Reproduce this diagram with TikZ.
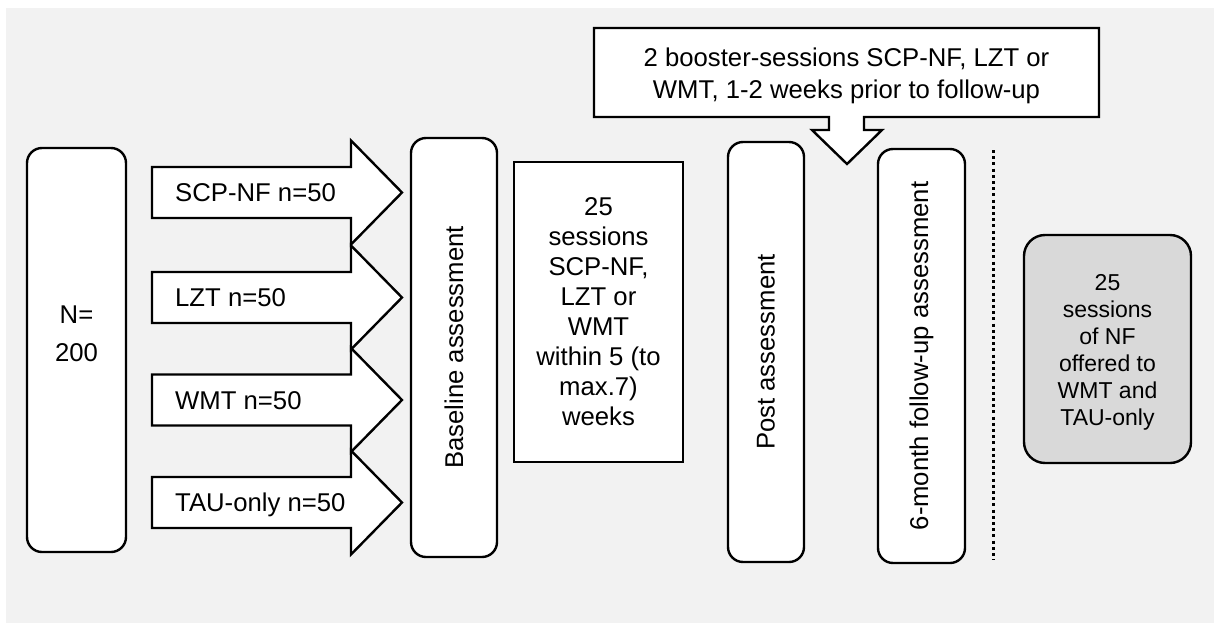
\documentclass[tikz,border=0pt]{standalone}
\usepackage{fontspec}
\setmainfont{Liberation Sans}
\definecolor{bgcol}{HTML}{F2F2F2}
\definecolor{graybox}{HTML}{D9D9D9}
\begin{document}
\begin{tikzpicture}[x=1pt,y=-1pt,
  box/.style={draw=black, line width=2.4pt, fill=white, inner sep=0pt},
  rbox/.style={box, rounded corners=15pt},
  lbl/.style={font=\fontsize{25.7}{30}\selectfont, align=center, inner sep=0pt},
  blockarrow/.style={draw=black, line width=2.4pt, fill=white, line join=miter},
  sep/.style={line width=3pt, dash pattern=on 3pt off 3.2pt},
]
\useasboundingbox (0,0) rectangle (1214,623);
\fill[bgcol] (6,8) rectangle (1214,623);

% N box
\node[rbox, minimum width=99pt, minimum height=404pt] (Nbox) at (76.5,350) {};
\node[lbl, font=\fontsize{25.7}{38}\selectfont] (Ntext) at (76.5,334) {N=\\200};

% group arrows
\foreach \yy/\txt/\nm in {192.5/SCP-NF n=50/a1, 297.5/LZT n=50/a2, 400/WMT n=50/a3, 502.5/TAU-only n=50/a4}{
  \draw[blockarrow] (152,{\yy-25.5}) -- (351,{\yy-25.5}) -- (351,{\yy-52}) -- (402,\yy)
     -- (351,{\yy+52}) -- (351,{\yy+25.5}) -- (152,{\yy+25.5}) -- cycle;
  \node[lbl, anchor=base west] (\nm) at (175,{\yy+9.2}) {\txt};
}

% Baseline
\node[rbox, minimum width=86pt, minimum height=419pt] (base) at (454,347.5) {};
\node[lbl, rotate=90] (basetext) at (base.center) {Baseline assessment};

% 25 sessions
\node[box, minimum width=169pt, minimum height=300pt] (sess) at (598.5,312) {};
\node[lbl] (sesstext) at (598.5,312) {25\\sessions\\SCP-NF,\\LZT or\\WMT\\within 5 (to\\max.7)\\weeks};

% Post
\node[rbox, minimum width=76pt, minimum height=420pt] (post) at (766,352) {};
\node[lbl, rotate=90] (posttext) at (post.center) {Post assessment};

% Callout
\draw[blockarrow] (594,28) -- (1099,28) -- (1099,117) -- (864,117) -- (864,130) -- (882,130)
   -- (847,164) -- (812,130) -- (829,130) -- (829,117) -- (594,117) -- cycle;
\node[lbl, font=\fontsize{25.7}{31.5}\selectfont] (booster) at (846.5,76) {2 booster-sessions SCP-NF, LZT or\\WMT, 1-2 weeks prior to follow-up};

% 6-month
\node[rbox, minimum width=87pt, minimum height=414pt] (fu) at (921.5,356) {};
\node[lbl, rotate=90] (futext) at (fu.center) {6-month follow-up assessment};

% dotted separator
\coordinate (septop) at (993,150);
\coordinate (sepbot) at (993,560);
\draw[sep] (septop) -- (sepbot);

% offered NF
\node[box, fill=graybox, rounded corners=21pt, minimum width=167pt, minimum height=228pt] (offer) at (1107.5,349) {};
\node[lbl, font=\fontsize{23}{27}\selectfont] (offertext) at (1107.5,352) {25\\sessions\\of NF\\offered to\\WMT and\\TAU-only};
\end{tikzpicture}
\end{document}
